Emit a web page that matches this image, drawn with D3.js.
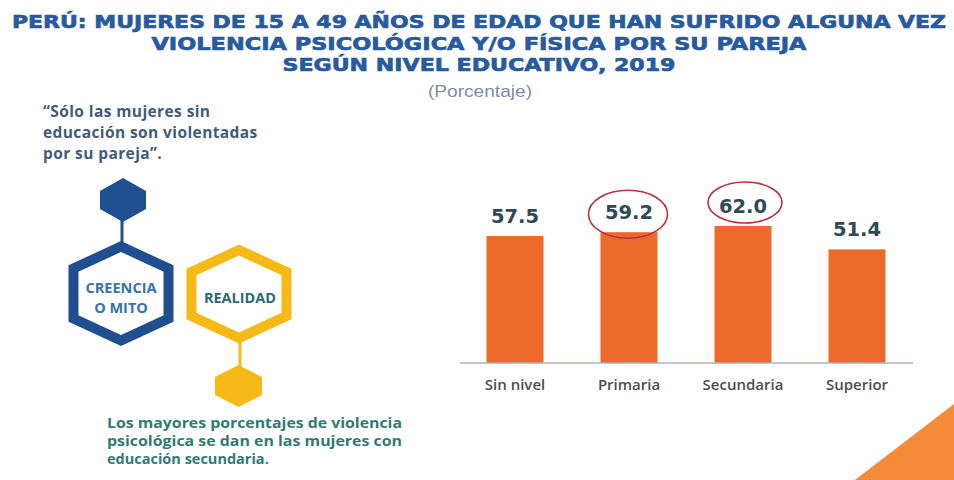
<!DOCTYPE html>
<html>
<head>
<meta charset="utf-8">
<script src="https://cdn.jsdelivr.net/npm/d3@7"></script>
<style>
  html, body { margin: 0; padding: 0; background: #ffffff; }
  svg { display: block; }
</style>
</head>
<body>
<svg id="chart" width="954" height="480"></svg>
<script>
// ---- data ----
const categories = ["Sin nivel", "Primaria", "Secundaria", "Superior"];
const values = [57.5, 59.2, 62.0, 51.4];
const highlighted = ["Primaria", "Secundaria"];
const titleLines = [
  "PERÚ: MUJERES DE 15 A 49 AÑOS DE EDAD QUE HAN SUFRIDO ALGUNA VEZ",
  "VIOLENCIA PSICOLÓGICA Y/O FÍSICA POR SU PAREJA",
  "SEGÚN NIVEL EDUCATIVO, 2019"
];
const subtitle = "(Porcentaje)";
const quoteLines = ["“Sólo las mujeres sin", "educación son violentadas", "por su pareja”."];
const mythLabel = ["CREENCIA", "O MITO"];
const realityLabel = ["REALIDAD"];
const realityLines = [
  "Los mayores porcentajes de violencia",
  "psicológica se dan en las mujeres con",
  "educación secundaria."
];

const svg = d3.select("#chart");

// background orange corner
svg.append("path")
  .attr("d", "M855,480 L954,404 L954,480 Z")
  .attr("fill", "#f38b38");

// ---- title ----
const titleColor = "#285a9f";
const titleSpecs = [
  { y: 28, len: 934 },
  { y: 50, len: 655 },
  { y: 71, len: 393 }
];
svg.selectAll("text.title")
  .data(titleLines)
  .join("text")
  .attr("class", "title")
  .attr("x", 479)
  .attr("y", (d, i) => titleSpecs[i].y)
  .attr("text-anchor", "middle")
  .attr("textLength", (d, i) => titleSpecs[i].len)
  .attr("lengthAdjust", "spacingAndGlyphs")
  .attr("font-family", "DejaVu Sans, sans-serif")
  .attr("font-weight", "bold")
  .attr("font-size", 18.5)
  .attr("fill", titleColor)
  .attr("stroke", titleColor)
  .attr("stroke-width", 0.7)
  .text(d => d);

svg.append("text")
  .attr("x", 480).attr("y", 97)
  .attr("text-anchor", "middle")
  .attr("textLength", 104)
  .attr("lengthAdjust", "spacingAndGlyphs")
  .attr("font-family", "Liberation Sans, Arial, sans-serif")
  .attr("font-size", 17)
  .attr("fill", "#7c8ca4")
  .text(subtitle);

// ---- left panel: quote ----
svg.selectAll("text.quote")
  .data(quoteLines)
  .join("text")
  .attr("class", "quote")
  .attr("x", 43)
  .attr("y", (d, i) => 117 + i * 21)
  .attr("font-family", "Open Sans, sans-serif")
  .attr("font-weight", 700)
  .attr("font-size", 15.5)
  .attr("letter-spacing", 0.4)
  .attr("fill", "#3f5c7a")
  .text(d => d);

// hexagon helper (pointy top, vertical sides)
function hexPath(cx, cy, w, h, t) {
  const l = cx - w / 2, r = cx + w / 2, top = cy - h / 2, bot = cy + h / 2;
  return `M${cx},${top} L${r},${top + t} L${r},${bot - t} L${cx},${bot} L${l},${bot - t} L${l},${top + t} Z`;
}

const blue = "#1f4f8e";
const yellow = "#f6b917";

// blue small hex + connector + big hex
svg.append("line").attr("x1", 122).attr("x2", 122).attr("y1", 215).attr("y2", 246)
  .attr("stroke", blue).attr("stroke-width", 3);
svg.append("path").attr("d", hexPath(123, 200, 46, 44, 13)).attr("fill", blue);
svg.append("path").attr("d", hexPath(121, 293.5, 95, 94, 22))
  .attr("fill", "#ffffff").attr("stroke", blue).attr("stroke-width", 10)
  .attr("stroke-linejoin", "miter");

svg.selectAll("text.myth")
  .data(mythLabel)
  .join("text")
  .attr("class", "myth")
  .attr("x", 121)
  .attr("y", (d, i) => 293 + i * 20)
  .attr("text-anchor", "middle")
  .attr("font-family", "Open Sans, sans-serif")
  .attr("font-weight", 700)
  .attr("font-size", 14.5)
  .attr("fill", "#3473ab")
  .text(d => d);

// yellow big hex + connector + small hex
svg.append("line").attr("x1", 240).attr("x2", 240).attr("y1", 336).attr("y2", 372)
  .attr("stroke", yellow).attr("stroke-width", 3);
svg.append("path").attr("d", hexPath(239, 294, 95, 88, 22))
  .attr("fill", "#ffffff").attr("stroke", yellow).attr("stroke-width", 10)
  .attr("stroke-linejoin", "miter");
svg.append("path").attr("d", hexPath(238.5, 386, 47, 42, 12)).attr("fill", yellow);

svg.selectAll("text.reality")
  .data(realityLabel)
  .join("text")
  .attr("class", "reality")
  .attr("x", 240)
  .attr("y", 303)
  .attr("text-anchor", "middle")
  .attr("font-family", "Open Sans, sans-serif")
  .attr("font-weight", 700)
  .attr("font-size", 14.5)
  .attr("fill", "#2c6b72")
  .text(d => d);

// reality text (justified first two lines)
svg.selectAll("text.realtxt")
  .data(realityLines)
  .join("text")
  .attr("class", "realtxt")
  .attr("x", 107)
  .attr("y", (d, i) => 428 + i * 18)
  .attr("font-family", "Open Sans, sans-serif")
  .attr("font-weight", 700)
  .attr("font-size", 14.5)
  .attr("fill", "#2f7b73")
  .each(function(d, i) {
    if (i < realityLines.length - 1) {
      d3.select(this).attr("textLength", 295).attr("lengthAdjust", "spacingAndGlyphs");
    }
  })
  .text(d => d);

// ---- bar chart ----
const x = d3.scaleBand()
  .domain(categories)
  .range([458, 914])
  .paddingInner(0.5)
  .paddingOuter(0.25);

const y = d3.scaleLinear()
  .domain([0, 62])
  .range([363, 226]);

const data = categories.map((c, i) => ({ cat: c, value: values[i] }));

svg.append("g")
  .selectAll("rect")
  .data(data)
  .join("rect")
  .attr("x", d => x(d.cat))
  .attr("width", x.bandwidth())
  .attr("y", d => y(d.value))
  .attr("height", d => y(0) - y(d.value))
  .attr("fill", "#ec6a2a");

// axis
const axis = svg.append("g")
  .attr("transform", `translate(0,${y(0)})`)
  .call(d3.axisBottom(x).tickSize(0).tickPadding(16));
axis.select(".domain")
  .attr("d", "M460,0H913")
  .attr("stroke", "#aab3bc")
  .attr("stroke-width", 1.5);
axis.selectAll("text")
  .attr("font-family", "Open Sans, sans-serif")
  .attr("font-size", 15)
  .attr("font-weight", 600)
  .attr("fill", "#4d4d4d");

// value labels
svg.append("g")
  .selectAll("text")
  .data(data)
  .join("text")
  .attr("x", d => x(d.cat) + x.bandwidth() / 2)
  .attr("y", d => y(d.value) - 13)
  .attr("text-anchor", "middle")
  .attr("font-family", "DejaVu Sans, sans-serif")
  .attr("font-weight", "bold")
  .attr("font-size", 19.5)
  .attr("fill", "#2f4a55")
  .text(d => d.value.toFixed(1));

// highlight ellipses (hand-drawn style)
const ellipseStyle = {
  "Primaria":   { dx: -1, dy: -5,  rx: 39.5, ry: 24 },
  "Secundaria": { dx: 2,  dy: -10.5, rx: 37, ry: 20.5 }
};
svg.append("g")
  .selectAll("ellipse")
  .data(data.filter(d => highlighted.includes(d.cat)))
  .join("ellipse")
  .attr("cx", d => x(d.cat) + x.bandwidth() / 2 + ellipseStyle[d.cat].dx)
  .attr("cy", d => y(d.value) - 13 + ellipseStyle[d.cat].dy)
  .attr("rx", d => ellipseStyle[d.cat].rx)
  .attr("ry", d => ellipseStyle[d.cat].ry)
  .attr("fill", "none")
  .attr("stroke", "#b83240")
  .attr("stroke-width", 1.6);
</script>
</body>
</html>
